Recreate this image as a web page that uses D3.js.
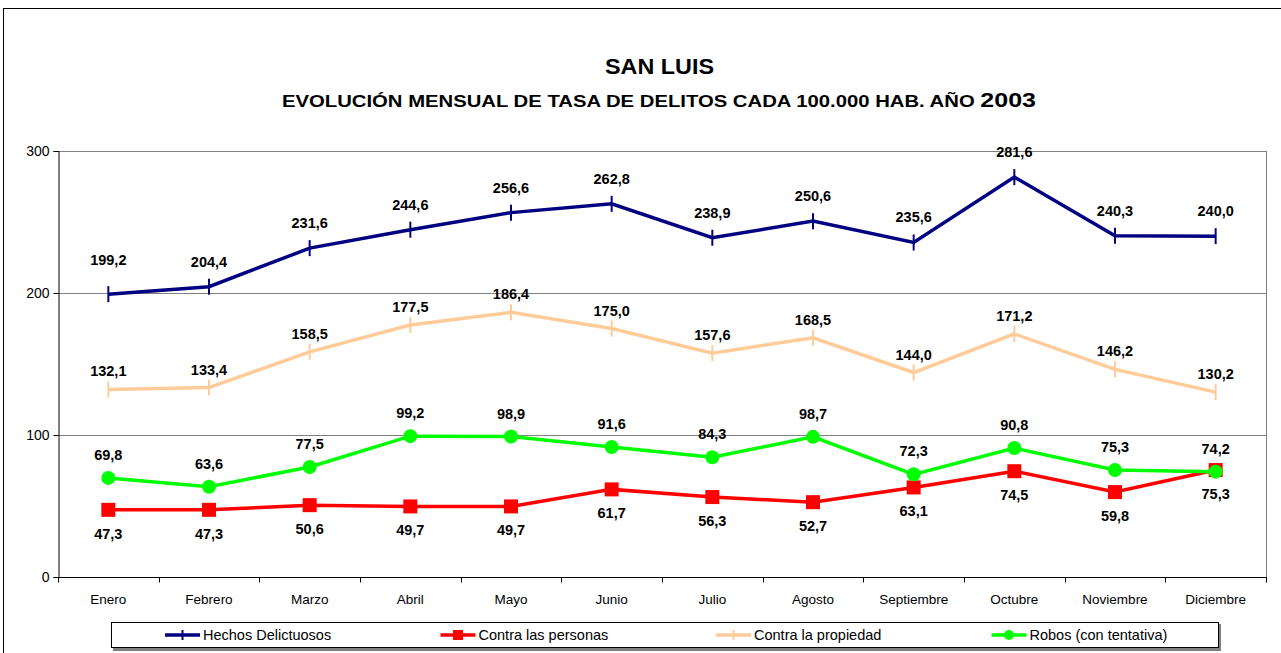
<!DOCTYPE html>
<html>
<head>
<meta charset="utf-8">
<script src="https://cdn.jsdelivr.net/npm/d3@7"></script>
<style>
  body { margin: 0; background: #fff; }
  text { font-family: "Liberation Sans", Arial, sans-serif; }
</style>
</head>
<body>
<div class="chart"></div>
<script>
// DATA ----------------------------------------
const months = ['Enero', 'Febrero', 'Marzo', 'Abril', 'Mayo', 'Junio', 'Julio', 'Agosto', 'Septiembre', 'Octubre', 'Noviembre', 'Diciembre'];
const hechos = [199.2, 204.4, 231.6, 244.6, 256.6, 262.8, 238.9, 250.6, 235.6, 281.6, 240.3, 240.0];
const personas = [47.3, 47.3, 50.6, 49.7, 49.7, 61.7, 56.3, 52.7, 63.1, 74.5, 59.8, 75.3];
const propiedad = [132.1, 133.4, 158.5, 177.5, 186.4, 175.0, 157.6, 168.5, 144.0, 171.2, 146.2, 130.2];
const robos = [69.8, 63.6, 77.5, 99.2, 98.9, 91.6, 84.3, 98.7, 72.3, 90.8, 75.3, 74.2];
const yTicks = [0, 100, 200, 300];

const series = [
	{name: 'Hechos Delictuosos', values: hechos, color: '#000080', marker: 'plus', dy: -25},
	{name: 'Contra las personas', values: personas, color: '#ff0000', marker: 'square', dy: 24},
	{name: 'Contra la propiedad', values: propiedad, color: '#ffcc99', marker: 'plus', dy: -18},
	{name: 'Robos (con tentativa)', values: robos, color: '#00ff00', marker: 'circle', dy: -23}
];

// CHART INIT ----------------------------------------
const W = 1281, H = 653;
const plot = {left: 58, right: 1266, top: 151, bottom: 577};

const svg = d3.select('.chart').append('svg')
	.attr('width', W)
	.attr('height', H);

// outer frame
svg.append('rect')
	.attr('x', 3.5).attr('y', 8.5)
	.attr('width', 1300).attr('height', 700)
	.attr('fill', 'none')
	.attr('stroke', '#000');

// titles
svg.append('text')
	.attr('x', 605).attr('y', 74)
	.attr('font-size', 22).attr('font-weight', 'bold')
	.attr('textLength', 109).attr('lengthAdjust', 'spacingAndGlyphs')
	.text('SAN LUIS');

const sub = svg.append('text')
	.attr('x', 282).attr('y', 107)
	.attr('font-size', 17).attr('font-weight', 'bold')
	.attr('textLength', 754).attr('lengthAdjust', 'spacingAndGlyphs');
sub.append('tspan').text('EVOLUCIÓN MENSUAL DE TASA DE DELITOS CADA 100.000 HAB. AÑO ');
sub.append('tspan').attr('font-size', 21).text('2003');

const xScale = d3.scaleBand()
	.domain(months)
	.range([plot.left, plot.right]);

const yScale = d3.scaleLinear()
	.domain([0, 300])
	.range([plot.bottom, plot.top]);

// gridlines
svg.append('g')
	.selectAll('line')
	.data(yTicks.filter(d => d > 0))
	.join('line')
	.attr('x1', plot.left).attr('x2', plot.right)
	.attr('y1', d => Math.round(yScale(d)) + 0.5)
	.attr('y2', d => Math.round(yScale(d)) + 0.5)
	.attr('stroke', '#808080');

// right border of plot area
svg.append('line')
	.attr('x1', plot.right + 0.5).attr('x2', plot.right + 0.5)
	.attr('y1', plot.top).attr('y2', plot.bottom)
	.attr('stroke', '#808080');

const yAxis = d3.axisLeft(yScale)
	.tickValues(yTicks)
	.tickSize(5)
	.tickPadding(4);

svg.append('g')
	.attr('class', 'axis y-axis')
	.attr('transform', `translate(${plot.left + 0.5},0)`)
	.call(yAxis)
	.call(g => g.select('.domain').attr('stroke', '#000'))
	.call(g => g.selectAll('text').attr('font-size', 14).attr('fill', '#000')
		.style('font-family', '"Liberation Sans", Arial, sans-serif'));

// x axis: ticks at band edges
const xAxisG = svg.append('g')
	.attr('transform', `translate(0,${plot.bottom + 0.5})`);

xAxisG.append('line')
	.attr('x1', plot.left).attr('x2', plot.right + 1)
	.attr('stroke', '#000');

xAxisG.selectAll('.tick-line')
	.data(months.concat(['end']))
	.join('line')
	.attr('class', 'tick-line')
	.attr('x1', (d, i) => Math.round(plot.left + i * xScale.bandwidth()) + 0.5)
	.attr('x2', (d, i) => Math.round(plot.left + i * xScale.bandwidth()) + 0.5)
	.attr('y1', 0).attr('y2', 5)
	.attr('stroke', '#000');

xAxisG.selectAll('.tick-label')
	.data(months)
	.join('text')
	.attr('class', 'tick-label')
	.attr('x', d => xScale(d) + xScale.bandwidth() / 2)
	.attr('y', 26)
	.attr('text-anchor', 'middle')
	.attr('font-size', 13.5)
	.text(d => d);

// lines and markers
const cx = d => xScale(d) + xScale.bandwidth() / 2;

const line = d3.line()
	.x((d, i) => cx(months[i]))
	.y(d => yScale(d));

function drawMarker(g, type, color, x, y) {
	if (type === 'plus') {
		g.append('line')
			.attr('x1', x).attr('x2', x)
			.attr('y1', y - 8).attr('y2', y + 8)
			.attr('stroke', color).attr('stroke-width', 2);
	} else if (type === 'square') {
		g.append('rect')
			.attr('x', x - 7).attr('y', y - 7)
			.attr('width', 14).attr('height', 14)
			.attr('fill', color);
	} else {
		g.append('circle')
			.attr('cx', x).attr('cy', y).attr('r', 7)
			.attr('fill', color);
	}
}

// draw order: propiedad, hechos, personas, robos (robos on top)
const order = [2, 0, 1, 3];
order.forEach(k => {
	const s = series[k];
	const g = svg.append('g');
	g.append('path')
		.datum(s.values)
		.attr('d', line)
		.attr('fill', 'none')
		.attr('stroke', s.color)
		.attr('stroke-width', 3.5);
	s.values.forEach((v, i) => drawMarker(g, s.marker, s.color, cx(months[i]), yScale(v)));
});

// data labels
series.forEach(s => {
	svg.append('g')
		.selectAll('text')
		.data(s.values)
		.join('text')
		.attr('x', (d, i) => cx(months[i]))
		.attr('y', (d, i) => yScale(d) + s.dy + 5 - (s.values === hechos && i === 0 ? 9 : 0))
		.attr('text-anchor', 'middle')
		.attr('font-size', 14.5)
		.attr('font-weight', 'bold')
		.text(d => d.toFixed(1).replace('.', ','));
});

// legend
const legend = svg.append('g');
legend.append('rect')
	.attr('x', 113).attr('y', 624)
	.attr('width', 1108).attr('height', 27)
	.attr('fill', '#808080');
legend.append('rect')
	.attr('x', 111.5).attr('y', 622.5)
	.attr('width', 1107).attr('height', 25)
	.attr('fill', '#fff')
	.attr('stroke', '#000');

series.forEach((s, i) => {
	const x0 = 165 + i * 275.5;
	const y0 = 635;
	const g = legend.append('g');
	g.append('line')
		.attr('x1', x0).attr('x2', x0 + 35)
		.attr('y1', y0).attr('y2', y0)
		.attr('stroke', s.color).attr('stroke-width', 3.5);
	if (s.marker === 'plus') {
		g.append('line')
			.attr('x1', x0 + 17.5).attr('x2', x0 + 17.5)
			.attr('y1', y0 - 5).attr('y2', y0 + 5)
			.attr('stroke', s.color).attr('stroke-width', 2);
	} else if (s.marker === 'square') {
		g.append('rect')
			.attr('x', x0 + 12.5).attr('y', y0 - 5)
			.attr('width', 10).attr('height', 10)
			.attr('fill', s.color);
	} else {
		g.append('circle')
			.attr('cx', x0 + 17.5).attr('cy', y0).attr('r', 5)
			.attr('fill', s.color);
	}
	g.append('text')
		.attr('x', x0 + 38).attr('y', y0 + 5)
		.attr('font-size', 14.5)
		.text(s.name);
});
</script>
</body>
</html>
